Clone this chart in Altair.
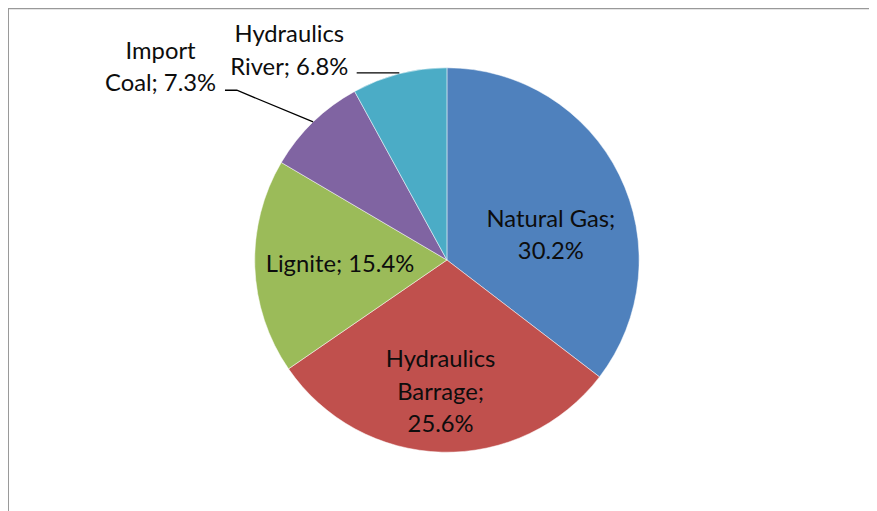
import altair as alt
import pandas as pd
import numpy as np

categories = ["Natural Gas", "Hydraulics Barrage", "Lignite", "Import Coal", "Hydraulics River"]
values = [30.2, 25.6, 15.4, 7.3, 6.8]
labels = ["Natural Gas;\n30.2%", "Hydraulics\nBarrage;\n25.6%", "Lignite; 15.4%",
          "Import\nCoal; 7.3%", "Hydraulics\nRiver; 6.8%"]
colors = ["#4F81BD", "#C0504D", "#9BBB59", "#8064A2", "#4BACC6"]

CX, CY, R = 443, 252, 194
FONT = "Lato"
FS = 24

df = pd.DataFrame({"cat": categories, "val": values, "label": labels,
                   "order": list(range(len(categories)))})
tot = float(sum(values))

theta_scale = alt.Scale(domain=[0, tot], range=[0, 2 * np.pi])

base = alt.Chart(df).transform_window(
    cum_end="sum(val)", sort=[alt.SortField("order")]
).transform_calculate(
    cum_start="datum.cum_end - datum.val",
    cum_mid="datum.cum_end - datum.val / 2",
)

pie = base.mark_arc(stroke="white", strokeWidth=0.5).encode(
    x=alt.value(CX), y=alt.value(CY),
    theta=alt.Theta("cum_start:Q", scale=theta_scale),
    theta2="cum_end:Q",
    color=alt.Color("cat:N", scale=alt.Scale(domain=categories, range=colors), legend=None),
    radius=alt.value(R),
)

# mid angles derived from the data (clockwise from top) for leader lines
cum = np.cumsum([0] + values)
mid = {c: (cum[i] + values[i] / 2) / tot * 2 * np.pi for i, c in enumerate(categories)}

def anchor(c, r):
    a = mid[c]
    return CX + r * np.sin(a), CY - r * np.cos(a)

# label placement: (radius, dx, dy) per category; dy points at the first line
place = {
    "Natural Gas": (117, 0, 11),
    "Hydraulics Barrage": (131, -3, -30),
    "Lignite": (94, -14, 2),
    "Import Coal": (R, -154, -71),
    "Hydraulics River": (R, -111, -39),
}

layers = [pie]
for c in categories:
    r, dx, dy = place[c]
    layers.append(
        base.transform_filter(alt.datum.cat == c).mark_text(
            font=FONT, fontSize=FS, color="#0d0d0d", lineBreak="\n", lineHeight=33,
            align="center", baseline="middle", dx=dx, dy=dy,
        ).encode(
            x=alt.value(CX), y=alt.value(CY),
            theta=alt.Theta("cum_mid:Q", scale=theta_scale),
            text="label:N", radius=alt.value(r),
        )
    )

# leader lines (from slice edge, elbow offsets)
ax, ay = anchor("Import Coal", R)
bx, by = anchor("Hydraulics River", R)
lead = pd.DataFrame({
    "g": ["c", "c", "c", "r", "r"],
    "k": [0, 1, 2, 0, 1],
    "px": [ax - 89, ax - 77, ax, bx - 43, bx],
    "py": [ay - 32, ay - 32, ay, by - 1, by - 1],
})
lines = alt.Chart(lead).mark_line(color="black", strokeWidth=1.3).encode(
    x=alt.X("px:Q", scale=None, axis=None),
    y=alt.Y("py:Q", scale=None, axis=None),
    detail="g:N", order="k:Q",
)
layers.append(lines)

# outer frame (left & top visible)
frame = pd.DataFrame({"x": [0], "y": [0]})
left = alt.Chart(frame).mark_rule(color="#999999", strokeWidth=2).encode(
    x=alt.value(0), y=alt.value(-2), y2=alt.value(510))
top = alt.Chart(frame).mark_rule(color="#999999", strokeWidth=2).encode(
    y=alt.value(-2), x=alt.value(0), x2=alt.value(880))
layers += [left, top]

chart = alt.layer(*layers).properties(
    width=869, height=503, padding=0,
    autosize=alt.AutoSizeParams(type="none"),
).configure_view(stroke=None)

chart.save("out.html", embed_options={"renderer": "svg", "actions": False})
